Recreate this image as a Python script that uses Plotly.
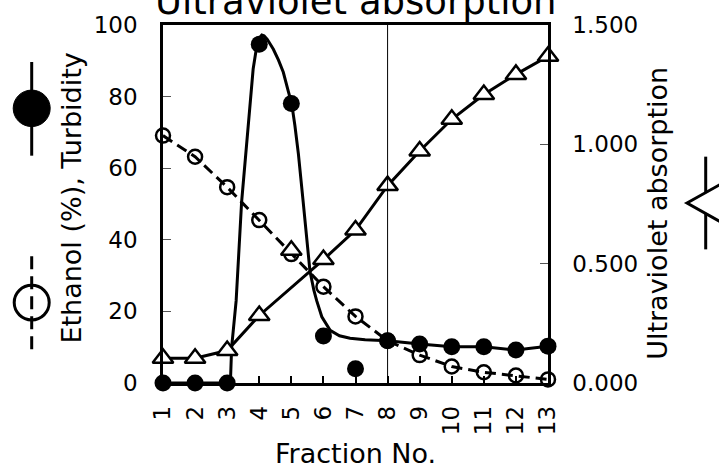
import plotly.graph_objects as go

# ---------------- data ----------------
fractions = [1, 2, 3, 4, 5, 6, 7, 8, 9, 10, 11, 12, 13]
turbidity = [0, 0, 0, 94.6, 78.1, 13.1, 4.0, 11.8, 10.9, 10.1, 10.1, 9.2, 10.3]
ethanol = [69.1, 63.2, 54.7, 45.5, 36.0, 26.9, 18.6, 11.8, 7.8, 4.6, 3.0, 2.1, 1.0]
uv_abs = [0.104, 0.104, 0.136, 0.283, 0.556, 0.517, 0.641, 0.827, 0.972, 1.105, 1.209, 1.293, 1.369]

# fitted turbidity curve
turb_curve_x = [1, 2, 3, 3.1, 3.14, 3.28, 3.45, 3.6, 3.73, 3.81, 3.92, 4.0, 4.08, 4.15,
                4.25, 4.44, 4.6, 4.75, 4.91, 5.01, 5.11, 5.22, 5.37, 5.5, 5.58, 5.7,
                5.79, 5.95, 6.21, 6.5, 6.83, 7.3, 8, 9, 10, 11, 12, 13]
turb_curve_y = [0, 0, 0, 0, 10, 23, 50.5, 66, 78, 87.7, 94, 96.3, 97.2, 97,
                96, 93.2, 90.2, 86.8, 81.3, 78.1, 72, 64, 50.5, 38, 31.3, 26,
                23, 18.5, 14.7, 13.2, 12.5, 12.1, 11.8, 10.9, 10.1, 10.1, 9.2, 10.3]

# UV line skips the fraction-5 point in the original drawing
uv_line_skip = [5]

x_ticks = fractions
y_left_ticks = [0, 20, 40, 60, 80, 100]
y_right_ticks = [0, 0.5, 1.0, 1.5]
y_right_labels = ["0.000", "0.500", "1.000", "1.500"]

FONT = "DejaVu Sans"

# plot-area geometry (pixels)
L, R, T, B = 163, 548, 20.5, 383.5
W, H = 719, 474
PW, PH = R - L, B - T


def px(x):
    return (x - L) / PW


def py(y):
    return (B - y) / PH


fig = go.Figure()

# turbidity curve
fig.add_trace(go.Scatter(x=turb_curve_x, y=turb_curve_y, mode="lines",
                         line=dict(color="black", width=3), showlegend=False,
                         hoverinfo="skip"))
# ethanol dashed
fig.add_trace(go.Scatter(x=fractions, y=ethanol, mode="lines+markers",
                         line=dict(color="black", width=3, dash="11px,6px"),
                         marker=dict(symbol="circle-open", size=14,
                                     color="black", line=dict(width=2.5)),
                         cliponaxis=False, showlegend=False))
# UV line
uv_lx = [f for f in fractions if f not in uv_line_skip]
uv_ly = [v for f, v in zip(fractions, uv_abs) if f not in uv_line_skip]
fig.add_trace(go.Scatter(x=uv_lx, y=uv_ly, mode="lines", yaxis="y2",
                         line=dict(color="black", width=3), showlegend=False))
fig.add_trace(go.Scatter(x=fractions, y=uv_abs, mode="markers", yaxis="y2",
                         marker=dict(symbol="triangle-up", size=18, color="white",
                                     line=dict(color="black", width=2.5)),
                         cliponaxis=False, showlegend=False))
# turbidity markers
fig.add_trace(go.Scatter(x=fractions, y=turbidity, mode="markers",
                         marker=dict(symbol="circle", size=17, color="black"),
                         cliponaxis=False, showlegend=False))

# reference line at fraction 8
fig.add_shape(type="line", xref="x", yref="paper", x0=8, x1=8, y0=0, y1=1,
              line=dict(color="black", width=1))

# legend-like symbols beside the axis titles
shapes = []
cx = 31.7
shapes.append(dict(type="line", xref="paper", yref="paper", x0=px(cx), x1=px(cx),
                   y0=py(58), y1=py(153), line=dict(color="black", width=3)))
shapes.append(dict(type="circle", xref="paper", yref="paper",
                   x0=px(cx - 18.5), x1=px(cx + 18.5), y0=py(105 + 18.5), y1=py(105 - 18.5),
                   fillcolor="black", line=dict(color="black", width=1)))
shapes.append(dict(type="line", xref="paper", yref="paper", x0=px(cx), x1=px(cx),
                   y0=py(255), y1=py(350), line=dict(color="black", width=3, dash="13px,7px")))
shapes.append(dict(type="circle", xref="paper", yref="paper",
                   x0=px(cx - 17.5), x1=px(cx + 17.5), y0=py(302 + 17.5), y1=py(302 - 17.5),
                   fillcolor="rgba(0,0,0,0)", line=dict(color="black", width=3)))
# right: rotated triangle symbol
tx = 705.7
shapes.append(dict(type="line", xref="paper", yref="paper", x0=px(tx), x1=px(tx),
                   y0=py(154), y1=py(248), line=dict(color="black", width=3)))
path = "M {a},{b} L {c},{d} L {c},{e} Z".format(a=px(687), b=py(201), c=px(724),
                                                 d=py(180), e=py(222))
shapes.append(dict(type="path", xref="paper", yref="paper", path=path,
                   fillcolor="white", line=dict(color="black", width=3)))
for s in shapes:
    fig.add_shape(**s)

annotations = [
    dict(text="Ultraviolet absorption", x=px(356), y=py(-3.5), xref="paper", yref="paper",
         xanchor="center", yanchor="middle", showarrow=False,
         font=dict(family=FONT, size=37, color="black")),
    dict(text="Ethanol (%), Turbidity", x=px(72), y=py(196.5), xref="paper", yref="paper",
         xanchor="center", yanchor="middle", textangle=-90, showarrow=False,
         font=dict(family=FONT, size=27, color="black")),
    dict(text="Ultraviolet absorption", x=px(658), y=py(212), xref="paper", yref="paper",
         xanchor="center", yanchor="middle", textangle=-90, showarrow=False,
         font=dict(family=FONT, size=27, color="black")),
    dict(text="Fraction No.", x=px(355), y=py(455), xref="paper", yref="paper",
         xanchor="center", yanchor="middle", showarrow=False,
         font=dict(family=FONT, size=27, color="black")),
]

fig.update_layout(
    width=W, height=H,
    margin=dict(l=L, r=W - R, t=T, b=H - B, pad=0),
    paper_bgcolor="white", plot_bgcolor="white",
    font=dict(family=FONT, size=23, color="black"),
    annotations=annotations,
    xaxis=dict(range=[1, 13], tickvals=x_ticks, ticktext=[str(v) for v in x_ticks],
               tickangle=-90, ticks="inside", ticklen=7, tickwidth=1.5, tickcolor="black",
               showline=True, linecolor="black", linewidth=2.5, mirror=True,
               showgrid=False, zeroline=False, ticklabelstandoff=11,
               tickfont=dict(family=FONT, size=23, color="black")),
    yaxis=dict(range=[0, 100], tickvals=y_left_ticks, ticks="inside", ticklen=8,
               tickwidth=1, tickcolor="#555", showline=True, linecolor="black",
               linewidth=2.5, showgrid=False, zeroline=False, ticklabelstandoff=18,
               tickfont=dict(family=FONT, size=23, color="black")),
    yaxis2=dict(range=[0, 1.5], tickvals=y_right_ticks, ticktext=y_right_labels,
                overlaying="y", side="right", ticks="inside", ticklen=8, tickwidth=1,
                tickcolor="#555", showline=True, linecolor="black", linewidth=2.5,
                showgrid=False, zeroline=False, ticklabelstandoff=17,
                tickfont=dict(family=FONT, size=23, color="black")),
)

fig.write_html("out.html")
